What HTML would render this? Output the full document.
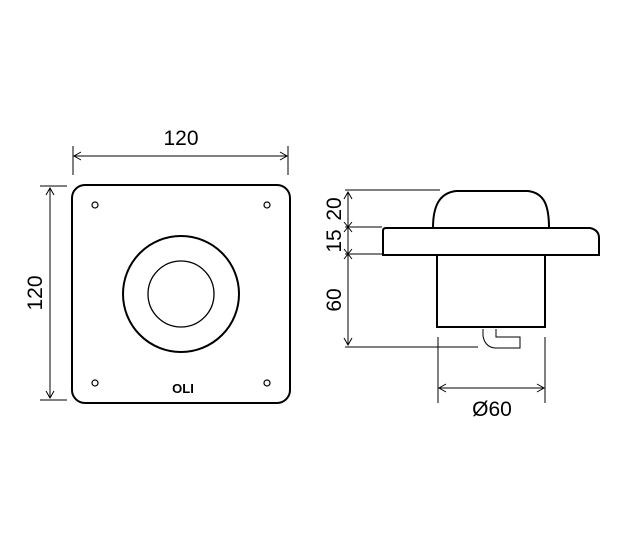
<html><body style="margin:0;background:#fff">
<svg width="618" height="535" viewBox="0 0 618 535" xmlns="http://www.w3.org/2000/svg" font-family="Liberation Sans, sans-serif" fill="none" stroke="#000">
<g stroke-width="1">
<line x1="73" y1="146" x2="73" y2="175"/><line x1="288" y1="146" x2="288" y2="175"/>
<line x1="74" y1="156" x2="287" y2="156"/>
<polyline points="81,152 74,156 81,160"/><polyline points="280,152 287,156 280,160"/>
<line x1="40" y1="186" x2="67" y2="186"/><line x1="40" y1="400" x2="67" y2="400"/>
<line x1="50" y1="188" x2="50" y2="398"/>
<polyline points="46,195 50,188 54,195"/><polyline points="46,391 50,398 54,391"/>
</g>
<text x="181" y="145" font-size="21" fill="#000" stroke="none" text-anchor="middle">120</text>
<text transform="translate(42,293) rotate(-90)" font-size="21" fill="#000" stroke="none" text-anchor="middle">120</text>
<rect x="72" y="185" width="218" height="218" rx="13" stroke-width="2"/>
<circle cx="181" cy="294" r="58" stroke-width="2"/>
<circle cx="181" cy="294" r="33" stroke-width="1.3"/>
<g stroke-width="1.2"><circle cx="95" cy="205" r="3"/><circle cx="267" cy="205" r="3"/><circle cx="95" cy="383" r="3"/><circle cx="267" cy="383" r="3"/></g>
<text x="183" y="393" font-size="13" font-weight="bold" fill="#000" stroke="none" text-anchor="middle">OLI</text>
<g stroke-width="2">
<path d="M433,228 C433,205 440,193 456,191 L528,191 C544,193 549,205 549,228"/>
<path d="M383,255 L383,231 Q383,228 386,228 L590,228 Q599,230 599,238 L599,255 Z"/>
<path d="M437,255 L437,327 L545,327 L545,255"/>
</g>
<path d="M483,329 L483,336 Q485,347 495,348 L520,348 L520,337 L496,337 L496,329" stroke-width="1"/>
<g stroke-width="1">
<line x1="345" y1="190" x2="440" y2="190"/>
<line x1="345" y1="227" x2="382" y2="227"/>
<line x1="345" y1="254" x2="382" y2="254"/>
<line x1="345" y1="347" x2="478" y2="347"/>
<line x1="348" y1="192" x2="348" y2="345"/>
<polyline points="344,199 348,192 352,199"/>
<polyline points="344,222 348,227 352,222"/><polyline points="344,232 348,227 352,232"/>
<polyline points="344,249 348,254 352,249"/><polyline points="344,259 348,254 352,259"/>
<polyline points="344,338 348,345 352,338"/>
<line x1="438" y1="337" x2="438" y2="403"/><line x1="545" y1="337" x2="545" y2="403"/>
<line x1="439" y1="388" x2="544" y2="388"/>
<polyline points="446,384 439,388 446,392"/><polyline points="537,384 544,388 537,392"/>
</g>
<g fill="#000" stroke="none" font-size="21" text-anchor="middle">
<text transform="translate(341,209) rotate(-90)">20</text>
<text transform="translate(341,241) rotate(-90)">15</text>
<text transform="translate(341,300) rotate(-90)">60</text>
<text x="492" y="416">Ø60</text>
</g>
</svg>
</body></html>
